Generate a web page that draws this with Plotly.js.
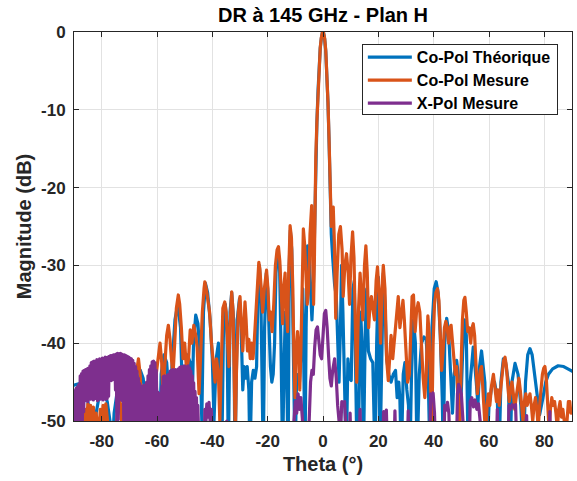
<!DOCTYPE html>
<html>
<head>
<meta charset="utf-8">
<script src="https://cdn.plot.ly/plotly-3.0.1.min.js"></script>
<style>
html,body{margin:0;padding:0;background:#fff;}
#chart{width:577px;height:481px;}
.scatterlayer .js-line{stroke-linejoin:round !important;stroke-linecap:round !important;}
</style>
</head>
<body>
<div id="chart"></div>
<script>
// ---------- DATA ----------
const chartTitle = 'DR à 145 GHz - Plan H';
const xLabel = 'Theta (°)';
const yLabel = 'Magnitude (dB)';
const seriesNames = ['Co-Pol Théorique', 'Co-Pol Mesure', 'X-Pol Mesure'];
const xTickVals = [-80, -60, -40, -20, 0, 20, 40, 60, 80];
const xTickText = ['-80', '-60', '-40', '-20', '0', '20', '40', '60', '80'];
const yTickVals = [-50, -40, -30, -20, -10, 0];
const yTickText = ['-50', '-40', '-30', '-20', '-10', '0'];

// Co-Pol Théorique: [theta (deg), magnitude (dB)]
const copolTheo = [
[-90,-45.4],[-89,-45.3],[-88,-45.2],[-87,-45.4],[-86,-46],[-85,-47.5],[-84,-49.5],[-83,-53],[-82,-49],[-81,-47],[-80,-46.3],[-79,-46.5],[-78,-47.5],[-77,-50],[-76.3,-55],[-75.5,-49],[-74.5,-46.5],[-73.5,-47.5],[-72.5,-50],[-71.8,-55],[-71,-48],[-70,-45.5],[-69,-46],[-68.3,-50],[-67.8,-55],[-67,-46],[-66,-43.5],[-65,-44.5],[-64,-48],[-63.3,-55],[-62.5,-46],[-61.5,-43],[-60.5,-44],[-59.8,-48],[-59.2,-55],[-58.5,-44],[-57.5,-41.5],[-56.5,-42.5],[-55.8,-46],[-55.3,-52],[-54.6,-43],[-53.5,-37],[-52.5,-35],[-51.5,-38],[-50.7,-48],[-50,-45],[-49,-41.5],[-48,-42.5],[-47.4,-50],[-46.8,-40],[-46,-36.4],[-45.2,-37.5],[-44.4,-42],[-43.8,-50],[-43.2,-36],[-42.5,-32.3],[-41.7,-33.5],[-40.8,-37],[-40,-42],[-39.4,-50],[-38.6,-42],[-37.8,-40],[-37.2,-45],[-36.6,-55],[-36,-39],[-35.3,-35],[-34.7,-38],[-34.2,-55],[-33.6,-36],[-33,-33.5],[-32.3,-37],[-31.8,-55],[-31,-37],[-30.2,-34.3],[-29.6,-38],[-29,-46],[-28.5,-43],[-28,-44.5],[-27.4,-43],[-26.8,-46],[-26.4,-55],[-25.8,-45],[-25.2,-43.5],[-24.6,-44.5],[-24,-43],[-23.5,-33],[-23,-30],[-22.5,-33],[-22,-42],[-21.6,-55],[-21.1,-38],[-20.5,-31],[-20,-33],[-19.5,-38],[-19,-43],[-18.5,-45],[-18,-44],[-17.5,-40],[-17,-31],[-16.3,-28],[-15.7,-30],[-15.2,-40],[-14.6,-55],[-14.1,-43],[-13.6,-36],[-13.1,-45],[-12.6,-55],[-12.2,-30],[-11.8,-25.5],[-11.3,-28],[-10.7,-40],[-10.1,-55],[-9.5,-44],[-9,-45],[-8.5,-45],[-7.8,-40],[-7.3,-33],[-6.9,-45],[-6.5,-55],[-6.1,-38],[-5.6,-27.5],[-5,-29],[-4.5,-34],[-4,-37],[-3.5,-33],[-3.1,-26],[-2.9,-21],[-2.6,-16],[-2.2,-11.6],[-1.8,-7.6],[-1.4,-4.3],[-1,-2.1],[-0.6,-0.8],[-0.2,-0.05],[0.2,-0.1],[0.6,-0.9],[1,-2.5],[1.4,-5.1],[1.8,-9.1],[2.2,-14.2],[2.6,-20.5],[3,-26],[3.5,-29],[4.2,-32.5],[4.8,-34],[5.3,-40],[5.8,-45],[6.3,-38],[6.7,-30],[7.2,-36],[7.8,-46],[8.4,-55],[9,-42],[9.6,-44.5],[10.2,-44.8],[10.8,-33],[11.3,-32],[11.8,-40],[12.3,-55],[13,-48],[13.6,-36],[14.1,-40],[14.6,-55],[15.3,-38],[15.8,-33],[16.4,-41],[17.2,-42],[18,-42.5],[18.8,-55],[19.4,-40],[20,-31.5],[20.6,-55],[21.2,-40],[21.8,-31],[22.4,-35],[23,-42],[23.8,-44],[24.6,-45],[25.4,-44],[26.2,-43.5],[26.8,-47],[27.4,-45],[27.8,-47.3],[28.3,-55],[29,-44],[29.6,-42.5],[30.3,-46],[30.9,-48],[31.4,-55],[32,-44],[32.7,-37],[33.4,-40],[34,-55],[34.8,-44],[35.6,-40],[36.5,-39.2],[37.3,-39.5],[38,-44],[38.7,-55],[39.4,-38],[40.2,-33],[40.9,-32.1],[41.6,-33.5],[42.4,-39],[43.1,-47],[43.5,-55],[44,-40],[44.7,-36.8],[45.4,-38.5],[46.2,-44],[46.8,-49],[47.4,-44],[48.3,-42.2],[49.2,-45],[49.8,-48],[50.5,-41],[51.2,-37],[51.8,-39],[52.5,-55],[53.2,-45],[54.3,-40.5],[55.4,-45],[56,-48],[56.6,-43],[57.3,-41],[58.5,-45],[59.2,-55],[60,-48],[61,-45.5],[62,-45],[63,-47],[63.6,-55],[64.3,-45],[65.2,-42],[66,-42.5],[67,-45],[67.6,-55],[68.3,-45],[69.4,-42.6],[70.5,-44],[71.5,-48],[72.4,-55],[73.2,-45],[74,-41.5],[74.8,-40.7],[75.6,-41.5],[76.5,-44],[77.3,-47],[78.3,-49.2],[79.5,-47],[80.5,-45],[81.5,-44],[83,-43.3],[85,-42.9],[87,-43],[89,-43.4],[90,-43.6]
];

// Co-Pol Mesure: [theta (deg), magnitude (dB)]
const copolMes = [
[-90,-51],[-89,-49],[-88,-52],[-87,-50],[-86,-48.5],[-85.5,-51],[-85,-47.8],[-84.5,-50],[-84,-48],[-83.5,-51],[-83,-48.2],[-82.5,-52],[-82,-49],[-81,-52],[-80.5,-48.5],[-80,-51],[-79.5,-48],[-79,-50],[-78.5,-47.8],[-78,-49.5],[-77.5,-52],[-76,-53],[-75,-51],[-74,-48.5],[-73.5,-47.5],[-73,-48],[-72.5,-53],[-71,-52],[-70,-51],[-69,-50],[-68,-47],[-67.3,-43.5],[-66.7,-42],[-66.1,-44],[-65.5,-48],[-65,-52],[-64,-49],[-63.3,-45],[-62.8,-46.5],[-62.2,-44],[-61.5,-46],[-61,-48],[-60.3,-44],[-59.5,-41.5],[-58.9,-40],[-58.3,-42.5],[-57.8,-47],[-57.2,-43],[-56.5,-39],[-55.9,-37.7],[-55.3,-39.5],[-54.8,-42],[-54.2,-44],[-53.6,-40],[-53,-35.5],[-52.3,-33.8],[-51.8,-35],[-51.2,-38],[-50.6,-42],[-50,-40],[-49.3,-43.5],[-48.6,-42],[-48,-38.3],[-47.4,-40],[-46.7,-37.7],[-46,-39],[-45.5,-40.5],[-44.8,-46.5],[-44.2,-41],[-43.6,-36],[-43,-33],[-42.7,-32.1],[-42.2,-33],[-41.6,-34.5],[-41,-36],[-40.3,-40],[-39.6,-43],[-39,-45],[-38.5,-42],[-37.8,-44],[-37.3,-50],[-36.8,-42],[-36.2,-35.5],[-35.5,-34.7],[-35,-36],[-34.5,-40],[-34,-43],[-33.6,-38],[-33,-33.4],[-32.5,-36],[-32,-45],[-31.7,-52],[-31.3,-44],[-30.6,-36],[-30,-34],[-29.5,-37],[-29,-41],[-28.6,-38],[-28.2,-34.7],[-27.8,-37],[-27.3,-41],[-26.8,-39.5],[-26.3,-42],[-25.8,-40],[-25.3,-42],[-24.8,-39.5],[-24.2,-35],[-23.6,-30.5],[-23.2,-29.6],[-22.8,-30.5],[-22.3,-34],[-21.8,-36],[-21.2,-33],[-20.4,-30.6],[-19.9,-33],[-19.4,-37],[-18.9,-36],[-18.4,-38.5],[-17.8,-35],[-17.2,-30],[-16.6,-28],[-16.1,-27.6],[-15.6,-29.5],[-15.1,-35],[-14.6,-37.5],[-14.2,-33],[-13.7,-31],[-13.2,-36],[-12.8,-38.5],[-12.4,-31],[-11.9,-24.9],[-11.4,-26.5],[-10.9,-33],[-10.5,-42],[-10.1,-47],[-9.7,-41],[-9.2,-38.5],[-8.8,-40.5],[-8.4,-46],[-8,-41],[-7.5,-29],[-7.1,-25.3],[-6.6,-27.5],[-6.1,-32],[-5.7,-35],[-5.2,-33],[-4.7,-26],[-4.1,-22.3],[-3.7,-28],[-3.4,-35],[-3.1,-29],[-2.9,-20.5],[-2.6,-16],[-2.2,-11.5],[-1.8,-7.5],[-1.4,-4.2],[-1,-2],[-0.6,-0.7],[-0.2,0],[0.2,-0.1],[0.6,-0.8],[1,-2.4],[1.4,-5],[1.8,-9],[2.2,-14],[2.6,-20],[3,-25],[3.4,-23],[3.7,-22.5],[4.1,-27],[4.6,-36.8],[5.1,-31],[5.7,-26],[6.3,-25],[6.9,-28],[7.3,-34],[7.9,-30],[8.5,-28.5],[9.1,-31],[9.6,-35],[10.1,-29],[10.7,-25.7],[11.2,-29],[11.7,-38],[12.2,-45],[12.8,-36],[13.4,-31],[13.9,-34],[14.4,-37],[15,-30],[15.5,-27.5],[16,-31],[16.5,-38],[17,-35],[17.5,-34],[18,-35.5],[18.6,-37],[19.2,-32],[19.7,-30.2],[20.3,-34],[20.8,-40],[21.3,-33],[21.8,-30],[22.4,-33],[23,-42],[23.6,-44.8],[24.1,-42],[24.6,-39],[25.2,-42],[25.7,-40],[26.2,-37],[26.8,-34.5],[27.2,-34],[27.8,-38],[28.3,-36],[28.9,-34.5],[29.4,-37],[30,-42],[30.6,-45],[31.2,-44],[31.7,-37],[32.2,-34],[32.7,-33.8],[33.3,-38.5],[33.8,-36],[34.4,-34.8],[35,-36],[35.6,-41],[36.2,-44.5],[36.8,-47],[37.3,-44],[37.9,-36.5],[38.4,-39],[38.9,-45],[39.3,-52],[39.8,-40],[40.3,-35],[40.8,-33.5],[41.4,-33],[41.9,-34.5],[42.4,-40],[42.9,-43.5],[43.4,-41],[43.9,-38],[44.4,-37.2],[44.9,-38],[45.4,-40],[45.9,-38],[46.3,-37.7],[46.8,-40],[47.3,-42],[47.8,-44],[48.3,-43],[48.8,-46],[49.4,-52],[49.9,-43],[50.4,-37],[50.9,-34.5],[51.3,-34.1],[51.8,-36],[52.3,-38.5],[52.8,-38],[53.4,-40],[53.9,-38],[54.3,-37.5],[54.8,-39],[55.3,-44],[55.8,-46.5],[56.3,-45],[56.8,-43.5],[57.3,-43],[57.8,-46],[58.3,-49],[58.8,-52],[59.3,-48],[59.8,-46.5],[60.3,-48],[60.9,-45.5],[61.6,-44],[62.2,-46],[62.7,-47.5],[63.2,-46],[63.7,-48],[64.2,-46],[64.8,-43.5],[65.3,-42.2],[65.8,-41.8],[66.3,-43],[66.8,-45.5],[67.3,-47.5],[67.8,-46],[68.3,-45],[68.8,-46.5],[69.3,-48.5],[69.8,-47],[70.3,-45.5],[70.8,-44.5],[71.3,-46],[71.8,-48],[72.3,-50],[72.8,-47.5],[73.3,-46.5],[73.8,-48],[74.3,-47],[74.8,-46.5],[75.3,-48],[75.8,-50],[76.3,-48],[76.8,-47],[77.3,-48.5],[77.8,-51],[78.3,-48],[78.8,-45.5],[79.3,-44],[79.8,-43.2],[80.2,-43],[80.7,-44.5],[81.2,-48],[81.7,-51],[82.2,-48.5],[82.7,-47],[83.2,-48],[83.7,-47.5],[84.2,-49],[84.7,-51],[85.2,-48.5],[85.7,-47.5],[86.2,-49.5],[86.7,-48.5],[87.2,-50],[87.7,-52],[88.2,-50],[88.7,-47.5],[89.2,-47.5],[89.6,-49],[90,-48.5]
];

// X-Pol Mesure, densely sampled part: start angle, step and values (dB)
const xpolDenseStart = -90;
const xpolDenseStep = 0.25;
const xpolDense = [
-49.5,-46.1,-50.3,-45.8,-49.2,-45.6,-50.4,-45.3,
-50,-44.2,-49,-43.9,-50.3,-43.6,-48.8,-43.5,
-47.4,-43.4,-47.2,-43.3,-47.5,-43.2,-47,-42.9,
-47.2,-42.5,-46.9,-42.4,-47.3,-42.3,-47,-42.4,
-47.1,-42.1,-47.4,-42.2,-46.8,-42,-47.2,-42.1,
-47,-41.9,-47.3,-42,-46.9,-41.8,-47.2,-41.9,
-47.1,-41.8,-46.8,-41.7,-44.6,-41.6,-44.8,-41.6,
-44.5,-41.5,-44.7,-41.5,-46,-41.4,-50,-41.3,
-49.8,-41.4,-47.3,-41.3,-47.2,-41.4,-47.4,-41.5,
-50.2,-41.5,-49.4,-41.6,-50.1,-41.7,-49,-41.8,
-50.3,-41.9,-49.2,-42,-50,-42.2,-49.5,-42.6,
-50.2,-43,-49.1,-43.6,-50.4,-44.5,-49.3,-45.2,
-50,-45.5,-49.4,-45.6,-50.3,-45.4,-49,-45.5,
-50.4,-45,-49.2,-44.2,-50.1,-43.4,-48.9,-42.9,
-50.2,-42.4,-49.3,-42.3,-50,-42.5,-49.1,-43.5,
-50.5,-46.3,-49.6,-46.5,-50.2,-46.4,-49.2,-45.5,
-50.3,-44.3,-49,-44.2,-50.4,-44.4,-49.2,-44.1,
-50.1,-44,-49.3,-43.6,-50.5,-43.5,-49,-43.4,
-50.2,-43.5,-49.1,-43.4,-50.3,-43.6,-49.4,-43.3,
-50,-43.1,-49.2,-43,-50.4,-43.2,-48.9,-42.9,
-50.3,-43,-49.1,-43.1,-50.2,-42.9,-49.5,-43.2,
-50.1,-43.6,-49.4,-44.2,-50.3,-45.1,-49.8,-46.2,
-50.2,-47,-50.5,-48,
-51
];
// X-Pol Mesure, rest: [theta (deg), magnitude (dB)]
const xpolRest = [
[-44.5,-53],[-44,-55],[-43,-55],[-42.7,-48.5],[-42.3,-50],[-42,-47.8],[-41.6,-49.5],[-41.2,-47.6],[-40.8,-50],[-40.4,-48.5],[-40,-51],[-39.5,-55],[-35.2,-55],[-34.8,-50],[-34.4,-55],[-11,-55],[-10.5,-50],[-10,-47.5],[-9.5,-49],[-9,-46.5],[-8.5,-48.5],[-8,-47],[-7.5,-49.5],[-7,-52],[-6.5,-55],[-5.5,-55],[-5,-50],[-4.5,-45],[-4,-43.5],[-3.5,-44],[-3,-40.5],[-2.5,-38.3],[-2,-37.9],[-1.5,-39.5],[-1,-41.5],[-0.5,-42],[0,-39],[0.5,-36.2],[1,-35.8],[1.5,-38],[2,-41.5],[2.5,-44.5],[3,-45.5],[3.5,-43.5],[4.2,-42],[4.8,-44.5],[5.3,-48],[5.8,-50],[6.3,-52],[6.8,-47.5],[7.3,-48],[7.8,-47.5],[8.3,-51],[8.8,-55],[9.5,-55],[9.8,-49],[10.2,-55],[13,-55],[13.4,-48.5],[13.8,-55],[21.5,-55],[21.9,-48.8],[22.4,-49.5],[22.9,-48.6],[23.4,-55],[25.6,-55],[26,-48.7],[26.4,-55],[30.4,-55],[30.8,-48.7],[31.2,-55],[38.5,-55],[38.9,-46.5],[39.4,-47.2],[39.8,-46.4],[40.3,-49],[40.8,-55],[43.6,-55],[44,-48],[44.5,-48.6],[45,-47.6],[45.5,-49],[46,-55],[48.2,-55],[48.6,-46.5],[49,-45.3],[49.5,-45.8],[50,-46.5],[50.6,-50],[51,-55],[52.8,-55],[53.2,-47.5],[53.8,-47],[54.4,-48.2],[55,-47.3],[55.6,-48.5],[56.2,-47.8],[56.8,-50],[57.3,-55],[62.6,-55],[63,-48.5],[63.4,-55],[66.8,-55],[67.2,-48],[67.8,-48.5],[68.4,-47.9],[69,-48.2],[69.6,-47.9],[70.2,-55],[73.2,-55],[73.6,-49.3],[74,-55],[81.6,-55],[82,-48.8],[82.4,-55],[90,-55]
];

// ---------- BUILD ----------
const FONT = 'Liberation Sans, Arial, Helvetica, sans-serif';
const AX = '#262626';
const colors = ['#0072BD', '#D95319', '#7E2F8E'];
const LW = 3.2;

const xpX = [], xpY = [];
xpolDense.forEach((v, i) => { xpX.push(xpolDenseStart + i * xpolDenseStep); xpY.push(v); });
xpolRest.forEach(p => { xpX.push(p[0]); xpY.push(p[1]); });

function tr(xs, ys, name, color) {
  return {x: xs, y: ys, name: name, type: 'scatter', mode: 'lines',
          line: {color: color, width: LW}, hoverinfo: 'skip'};
}
const traces = [
  tr(copolTheo.map(p => p[0]), copolTheo.map(p => p[1]), seriesNames[0], colors[0]),
  tr(copolMes.map(p => p[0]), copolMes.map(p => p[1]), seriesNames[1], colors[1]),
  tr(xpX, xpY, seriesNames[2], colors[2])
];

const axisCommon = {
  showline: true, linecolor: AX, linewidth: 1, mirror: 'ticks',
  ticks: 'inside', ticklen: 5, tickwidth: 1, tickcolor: AX,
  showgrid: true, gridcolor: '#e2e2e2', gridwidth: 1, zeroline: false,
  tickfont: {family: FONT, size: 17, color: AX, weight: 'bold'},
  automargin: false
};

const layout = {
  width: 577, height: 481,
  paper_bgcolor: '#ffffff', plot_bgcolor: '#ffffff',
  margin: {l: 74, r: 5, t: 32, b: 60, pad: 0},
  showlegend: true,
  title: {text: chartTitle, font: {family: FONT, size: 20, color: '#000', weight: 'bold'},
          x: 0.5, xref: 'paper', xanchor: 'center', y: 1 - 15 / 481, yref: 'container', yanchor: 'middle'},
  xaxis: Object.assign({}, axisCommon, {
    range: [-90, 90], tickmode: 'array', tickvals: xTickVals, ticktext: xTickText,
    ticklabelstandoff: 5,
    title: {text: xLabel, font: {family: FONT, size: 20, color: AX, weight: 'bold'}, standoff: 6}
  }),
  yaxis: Object.assign({}, axisCommon, {
    range: [-50, 0], tickmode: 'array', tickvals: yTickVals, ticktext: yTickText,
    ticklabelstandoff: 4,
    title: {text: yLabel, font: {family: FONT, size: 20, color: AX, weight: 'bold'}, standoff: 4}
  }),
  legend: {
    x: 0.578, y: 0.969, xanchor: 'left', yanchor: 'top',
    bgcolor: '#ffffff', bordercolor: AX, borderwidth: 1,
    font: {family: FONT, size: 16, color: '#000', weight: 'bold'},
    tracegroupgap: 0, itemwidth: 44
  }
};

Plotly.newPlot('chart', traces, layout, {staticPlot: true, displayModeBar: false}).then(function (gd) {
  // tighten the legend box to the reference proportions
  const leg = gd.querySelector('.legend');
  if (!leg) return;
  const items = leg.querySelectorAll('.traces');
  items.forEach(function (g, i) { g.setAttribute('transform', 'translate(1,' + (13 + 23 * i) + ')'); });
  leg.querySelectorAll('.legendlines path').forEach(function (p) { p.setAttribute('d', 'M5,0h44'); });
  leg.querySelectorAll('.legendtext').forEach(function (t) { t.setAttribute('x', '54'); });
  const bg = leg.querySelector('rect.bg');
  if (bg) { bg.setAttribute('width', '195'); bg.setAttribute('height', '70'); }
  const sb = leg.querySelector('.scrollbox');
  if (sb) sb.removeAttribute('clip-path');
});
</script>
</body>
</html>
